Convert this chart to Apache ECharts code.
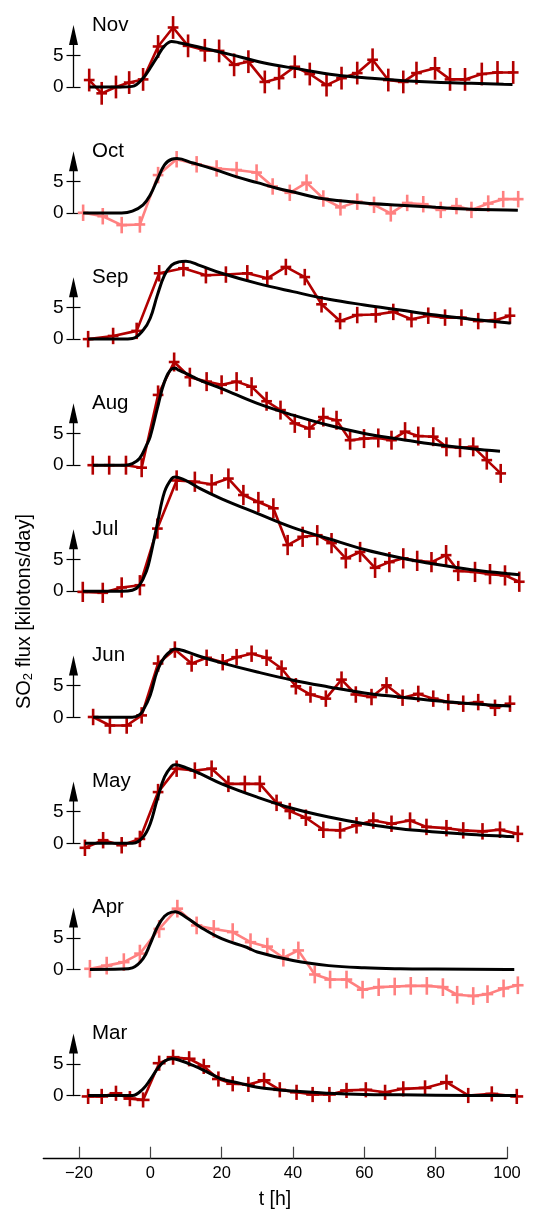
<!DOCTYPE html>
<html><head><meta charset="utf-8">
<script src="https://cdn.jsdelivr.net/npm/echarts@6/dist/echarts.min.js"></script>
<style>html,body{margin:0;padding:0;background:#fff}#c{width:539px;height:1211px}</style>
</head><body><div id="c"></div>
<script>
// ---------------- data ----------------
const months = ['Nov','Oct','Sep','Aug','Jul','Jun','May','Apr','Mar'];
const xTickValues = [-20, 0, 20, 40, 60, 80, 100];
const yTickValues = [0, 5];

const novT = [-17.1,-13.6,-9.6,-5.9,-2.0,2.2,6.4,10.6,15.3,19.3,23.5,27.5,32.1,36.1,40.5,44.7,49.4,53.6,58.0,62.3,66.7,70.9,74.6,79.8,84.0,88.2,92.9,97.3,101.7];
const novV = [1.1,-1.0,0,0.7,1.2,6.4,9.4,6.5,5.8,5.7,3.5,4.0,0.8,1.4,3.2,2.05,0.3,1.4,2.2,4.3,1.1,0.8,2.2,2.95,1.2,1.2,2.05,2.3,2.3];
const novFitT = [-17,-8,-5,-2,0,2,4,6,8,13,22,32,41,52,62,71,80,90,99,101.5];
const novFitV = [0,0,0.1,1.4,3.0,4.8,6.5,7.2,7.0,6.4,5.2,3.8,2.9,1.9,1.37,1.0,0.75,0.58,0.42,0.4];

const octT = [-18.8,-13.3,-8.0,-2.9,2.2,7.4,13.0,18.6,24.2,29.8,34.3,39.1,43.8,48.5,53.3,58.0,62.7,67.4,72.0,76.5,81.4,85.8,90.0,94.7,98.9,103.1];
const octV = [0.05,-0.5,-1.9,-1.8,6.0,8.5,7.7,7.05,6.8,6.4,4.2,3.2,4.8,2.3,0.9,1.8,1.3,-0.05,1.6,1.4,0.5,1.1,0.5,1.5,2.2,2.2];
const octFitT = [-18.8,-8,-5,-2,0,2,4,6,7.5,12,18,24,30,35,41,48,60,70,80,90,100,103];
const octFitV = [0,0,0.3,1.3,2.85,5.3,7.6,8.5,8.6,7.9,6.9,5.75,4.8,4.0,3.2,2.3,1.6,1.25,0.9,0.6,0.5,0.45];

const sepT = [-17.4,-10.4,-3.8,2.5,9.3,15.6,21.2,27.2,32.8,38.0,43.3,48.0,53.2,58.0,63.2,68.1,73.2,77.9,82.6,87.2,91.9,96.6,100.8];
const sepV = [0,0.5,1.3,10.4,11.2,10.1,10.2,10.4,9.6,11.4,9.8,5.5,2.85,3.8,3.9,4.3,3.15,3.7,3.4,3.4,2.85,3.0,3.7];
const sepFitT = [-17.4,-8,-5,-2,0,2,4,6,8,10,14,20,30,40,50,60,70,80,90,100,101];
const sepFitV = [0,0,0.1,1.4,3.3,6.95,10.1,11.7,12.2,12.3,11.6,10.4,8.8,7.5,6.3,5.4,4.6,3.8,3.15,2.6,2.55];

const augT = [-16.1,-11.5,-6.8,-2.4,2.2,6.7,11.1,15.8,20.0,24.2,28.4,32.6,36.5,40.5,44.6,48.5,52.2,56.0,59.9,63.9,67.6,71.4,75.1,79.3,83.0,86.8,90.5,94.3,98.2];
const augV = [0,0,0,-0.4,11.1,16.3,13.9,13.2,12.7,13.2,12.4,10.1,8.7,6.6,5.8,7.6,7.1,3.95,4.2,4.3,3.95,5.3,4.6,4.5,2.9,2.75,2.9,0.8,-1.3];
const augFitT = [-16.1,-7,-5,-3,-1,0,2,4,6,7,8,10,14,20,30,40,50,60,70,80,90,98];
const augFitV = [0,0,0.25,1.05,3.2,4.5,9.0,13.2,15.2,15.3,15.0,14.5,13.4,12.1,9.75,7.9,6.3,5.0,4.1,3.25,2.6,2.2];

const julT = [-18.9,-13.3,-8.0,-2.9,2.0,7.4,12.5,17.2,21.9,26.1,30.3,34.5,38.5,42.7,46.8,50.8,54.8,58.8,63.0,67.0,70.9,74.8,78.8,82.9,86.3,91.0,95.2,99.4,103.4];
const julV = [-0.1,-0.25,0.6,0.95,9.9,17.5,17.3,16.9,17.8,15.2,14.1,13.1,7.3,8.6,8.85,7.6,5.2,6.2,3.7,4.6,5.2,4.8,4.6,5.7,3.2,3.05,2.7,2.5,1.5];
const julFitT = [-18.9,-8,-5,-3,-1,0,2,4,6,7,8,10,14,20,30,40,50,60,70,80,90,100,103.5];
const julFitV = [0,0,0.15,0.95,3.3,5.4,10.7,15.7,17.8,18.05,17.95,17.5,16.2,14.6,12.3,10.05,8.3,6.6,5.3,4.25,3.4,2.8,2.6];

const junT = [-16,-11.3,-6.6,-2.4,2.2,6.9,11.6,15.8,20.3,24.2,28.4,32.6,36.8,40.8,44.9,49.2,53.6,57.6,62.0,66.2,70.7,75.1,79.3,83.5,87.7,91.9,96.6,100.8];
const junV = [0.05,-1.3,-1.3,0.3,8.5,10.7,8.5,9.4,8.7,9.5,10.05,9.4,7.7,4.9,3.6,2.95,5.95,3.6,3.2,5.05,3.1,3.7,2.95,2.4,2.15,2.4,1.5,2.15];
const junFitT = [-16,-5,-3,-2,0,2,4,6,7,10,14,20,30,40,50,60,70,80,90,98,101];
const junFitV = [0,0,0.4,1.1,3.5,7.4,9.5,10.6,10.8,10.4,9.6,8.6,7.15,5.85,4.8,3.85,3.2,2.6,2.15,1.85,1.8];

const mayT = [-18.3,-13.2,-8.0,-2.9,2.2,7.4,12.5,17.2,21.9,26.5,30.7,35.4,39.1,43.6,48.5,53.2,57.8,62.5,67.6,72.8,77.4,83.0,87.7,93.1,98.0,103.0];
const mayV = [-0.7,0.5,-0.3,0.7,8.1,11.8,11.5,11.8,9.4,9.4,9.4,6.4,5.1,4.05,2.15,2.05,2.85,3.6,3.1,3.6,2.6,2.4,2.05,1.9,2.15,1.5];
const mayFitT = [-18.3,-5,-2,0,2,4,6,7,10,14,20,30,40,50,60,70,80,90,100,102];
const mayFitV = [0,0,1.0,3.1,7.05,10.5,12.2,12.4,11.95,11.0,9.4,7.3,5.5,4.15,3.1,2.3,1.8,1.4,1.1,1.05];

const aprT = [-16.9,-12.2,-7.4,-2.9,2.5,7.6,13.0,17.8,23.1,28.1,32.8,37.3,41.5,46.1,50.4,55.0,59.5,64.0,68.5,73.0,77.5,82.0,86.0,90.5,94.5,99.0,103.0];
const aprV = [0.1,0.6,1.15,2.5,6.4,9.6,6.95,6.4,5.9,4.3,3.6,1.85,3.0,-0.8,-1.6,-1.6,-3.2,-2.8,-2.7,-2.6,-2.6,-2.8,-4.0,-4.2,-3.9,-3.0,-2.5];
const aprFitT = [-16.9,-8,-5,-2,0,2,4,6,7,10,14,20,27,30,40,50,60,70,80,100,102];
const aprFitV = [0,0.05,0.25,1.7,4.05,6.7,8.4,9.05,9.1,8.25,6.7,4.85,3.5,2.75,1.4,0.6,0.25,0.1,0.05,0,0];

const marT = [-17.4,-13.6,-9.6,-5.7,-2.0,2.5,6.4,10.9,15.0,19.1,23.1,27.5,31.9,36.3,41.0,45.5,50.2,55.0,60.4,65.8,70.9,77.0,83.0,89.1,95.7,102.7];
const marV = [-0.15,-0.15,0.35,-0.5,-0.7,5.1,6.05,5.8,4.6,2.6,1.85,1.75,2.4,0.9,0.5,0.15,0.15,0.8,0.9,0.5,1.05,1.2,2.1,0,0.25,-0.15];
const marFitT = [-17.4,-5,-2,0,2,4,6,8,12,16,20,25,30,40,50,60,70,80,100,102.5];
const marFitV = [0,0,1.05,2.5,4.2,5.4,5.8,5.6,4.75,3.7,2.6,1.95,1.3,0.7,0.35,0.15,0.1,0.05,0,0];

// error-bar half sizes (y in kilotons/day, x in hours), one per panel
const yErrs = [1.8, 1.3, 1.3, 1.5, 1.6, 1.3, 1.3, 1.4, 1.2];
const xErrs = [1.5, 1.5, 1.5, 1.5, 1.5, 1.5, 1.5, 1.6, 1.8];

// ---------------- styling / layout ----------------
const DARK = '#b20000', LIGHT = '#ff8080';
const FONT = 'Liberation Sans, Arial, sans-serif';
const panels = [
  {t:novT, v:novV, ft:novFitT, fv:novFitV, color:DARK},
  {t:octT, v:octV, ft:octFitT, fv:octFitV, color:LIGHT},
  {t:sepT, v:sepV, ft:sepFitT, fv:sepFitV, color:DARK},
  {t:augT, v:augV, ft:augFitT, fv:augFitV, color:DARK},
  {t:julT, v:julV, ft:julFitT, fv:julFitV, color:DARK},
  {t:junT, v:junV, ft:junFitT, fv:junFitV, color:DARK},
  {t:mayT, v:mayV, ft:mayFitT, fv:mayFitV, color:DARK},
  {t:aprT, v:aprV, ft:aprFitT, fv:aprFitV, color:LIGHT},
  {t:marT, v:marV, ft:marFitT, fv:marFitV, color:DARK}
];
const PXU = 6.33, Y0 = 87, STEP = 126.06, YMAX = 8.2;
const PXX = 3.569, XMIN = -21.5, XMAX = 106;
const GL = 73.5, GW = (XMAX - XMIN) * PXX;

const zip = (a, b) => a.map((x, i) => [x, b[i]]);
const grids = [], xAxes = [], yAxes = [], series = [], graphics = [];

panels.forEach((p, k) => {
  const y0 = Y0 + STEP * k;
  grids.push({left: GL, width: GW, top: y0 - YMAX * PXU, height: YMAX * PXU});
  xAxes.push({type: 'value', gridIndex: k, min: XMIN, max: XMAX, show: false});
  yAxes.push({
    type: 'value', gridIndex: k, min: 0, max: YMAX, position: 'left',
    axisLine: {show: true, onZero: false, symbol: ['none', 'triangle'], symbolSize: [9, 20],
      lineStyle: {color: '#000', width: 1.3}},
    axisTick: {show: true, length: 7, customValues: yTickValues, lineStyle: {color: '#000', width: 1.2}},
    axisLabel: {show: true, customValues: yTickValues, margin: 10, fontSize: 19, color: '#000', fontFamily: FONT},
    splitLine: {show: false}
  });
  yAxes.push({
    type: 'value', gridIndex: k, min: 0, max: YMAX, position: 'left',
    axisLine: {show: false, onZero: false},
    axisTick: {show: true, inside: true, length: 7, customValues: yTickValues, lineStyle: {color: '#000', width: 1.2}},
    axisLabel: {show: false}, splitLine: {show: false}
  });
  const xe = xErrs[k], ye = yErrs[k], col = p.color;
  series.push({
    type: 'line', xAxisIndex: k, yAxisIndex: 2 * k, data: zip(p.t, p.v),
    showSymbol: false, clip: false, z: 2,
    lineStyle: {color: col, width: 2.6}, animation: false
  });
  series.push({
    type: 'custom', xAxisIndex: k, yAxisIndex: 2 * k, data: zip(p.t, p.v), clip: false, z: 2,
    encode: {x: 0, y: 1}, animation: false,
    renderItem: (params, api) => {
      const t = api.value(0), v = api.value(1);
      const a = api.coord([t - xe, v]), b = api.coord([t + xe, v]);
      const c = api.coord([t, v - ye]), d = api.coord([t, v + ye]);
      return {type: 'group', children: [
        {type: 'line', shape: {x1: a[0], y1: a[1], x2: b[0], y2: b[1]}, style: {stroke: col, lineWidth: 2.6}},
        {type: 'line', shape: {x1: c[0], y1: c[1], x2: d[0], y2: d[1]}, style: {stroke: col, lineWidth: 2.6}}
      ]};
    }
  });
  series.push({
    type: 'line', xAxisIndex: k, yAxisIndex: 2 * k, data: zip(p.ft, p.fv),
    showSymbol: false, clip: false, smooth: 0.4, z: 3,
    lineStyle: {color: '#000', width: 3}, animation: false
  });
  graphics.push({type: 'text', x: 92, y: y0 - 62, style: {text: months[k], fontSize: 20.5, fontFamily: FONT,
    fill: '#000', align: 'left', verticalAlign: 'middle'}});
});

// bottom shared time axis
const B = panels.length;
grids.push({left: 43.3, width: 463.7, top: 1130, height: 28.7});
xAxes.push({
  type: 'value', gridIndex: B, min: -30, max: 100, position: 'bottom',
  axisLine: {show: true, onZero: false, lineStyle: {color: '#000', width: 1.3}},
  axisTick: {show: true, inside: true, length: 12, customValues: xTickValues, lineStyle: {color: '#444', width: 1.2}},
  axisLabel: {show: true, customValues: xTickValues, margin: 6, fontSize: 16.5, color: '#000', fontFamily: FONT,
    formatter: v => v < 0 ? '\u2212' + (-v) : String(v)},
  splitLine: {show: false}
});
yAxes.push({type: 'value', gridIndex: B, min: 0, max: 1, show: false});

graphics.push({type: 'text', x: 275, y: 1200, style: {text: 't [h]', fontSize: 19.5, fontFamily: FONT,
  fill: '#000', align: 'center', verticalAlign: 'middle'}});
graphics.push({type: 'text', x: 24, y: 611.5, rotation: Math.PI / 2, style: {
  text: '{a|SO}{s|2}{a| flux [kilotons/day]}', align: 'center', verticalAlign: 'middle',
  rich: {
    a: {fontSize: 20, fontFamily: FONT, fill: '#000', lineHeight: 22},
    s: {fontSize: 13, fontFamily: FONT, fill: '#000', lineHeight: 13, padding: [9, 0, 0, 0]}
  }}});

const chart = echarts.init(document.getElementById('c'), null, {renderer: 'canvas'});
chart.setOption({
  animation: false,
  backgroundColor: '#fff',
  grid: grids, xAxis: xAxes, yAxis: yAxes, series: series, graphic: graphics
});
</script></body></html>
